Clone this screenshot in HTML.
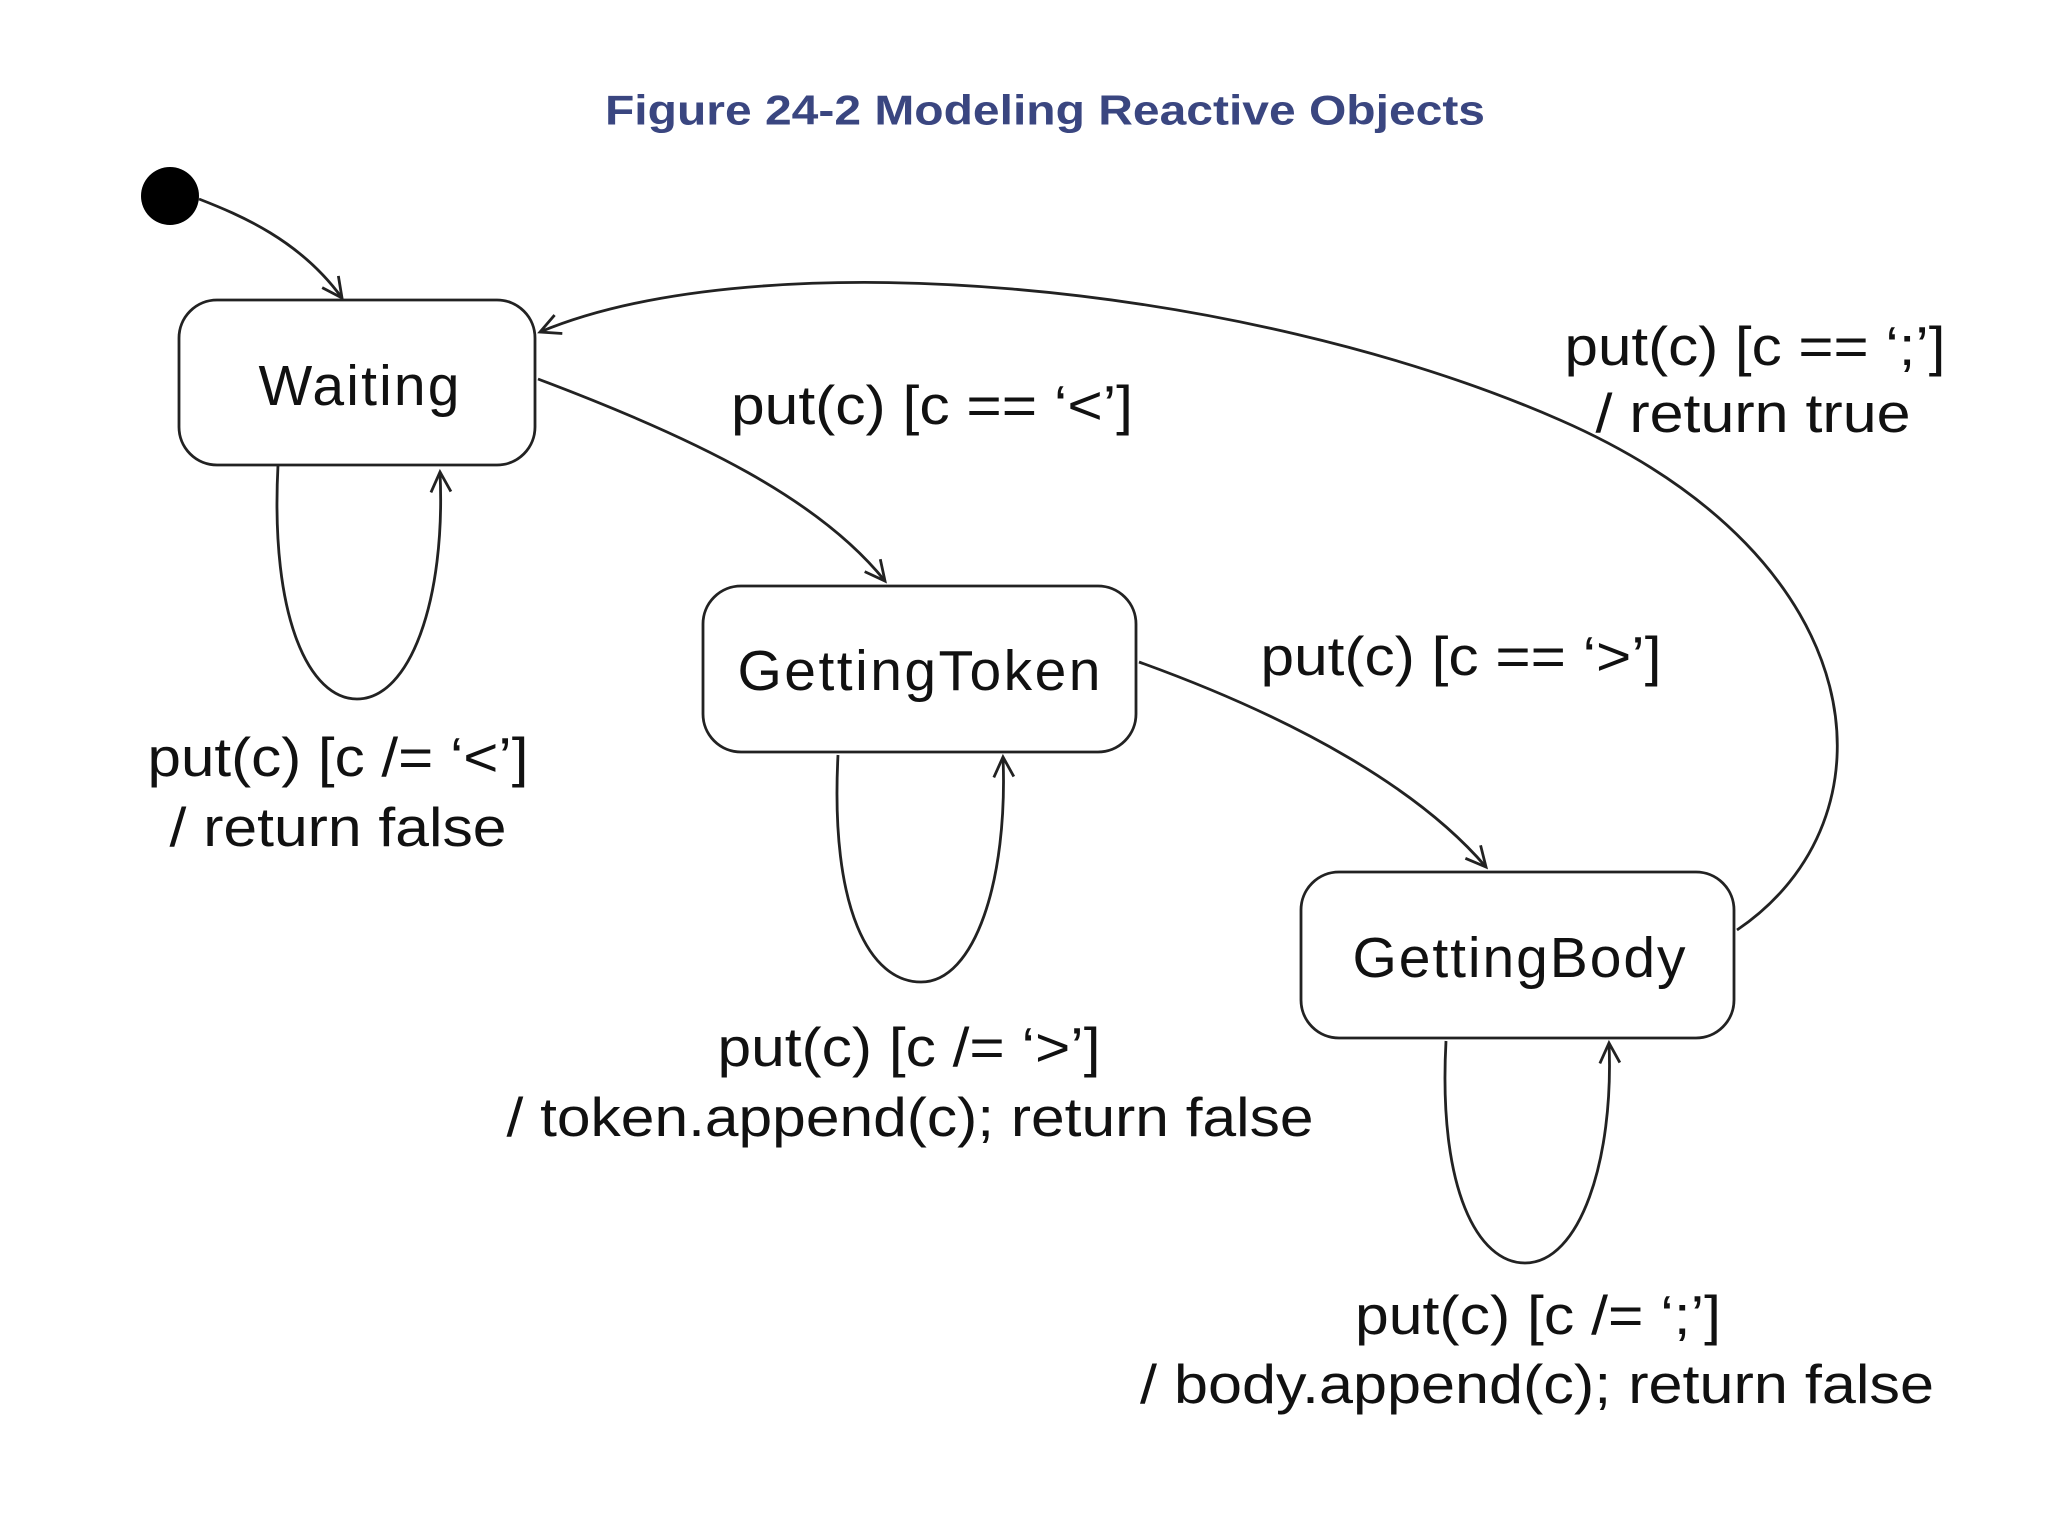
<!DOCTYPE html>
<html><head><meta charset="utf-8"><style>
html,body{margin:0;padding:0;background:#fff;}
svg{display:block;}
text{font-family:"Liberation Sans",Arial,sans-serif;fill:#111;}
</style></head><body>
<svg width="2048" height="1536" viewBox="0 0 2048 1536" xmlns="http://www.w3.org/2000/svg">
<defs>
<marker id="a" markerWidth="30" markerHeight="30" refX="22" refY="12" orient="auto" markerUnits="userSpaceOnUse">
<polyline points="2,2 22,12 2,22" fill="none" stroke="#222" stroke-width="2.8"/>
</marker>
</defs>
<text x="1045" y="110" font-size="42" font-weight="bold" text-anchor="middle" dominant-baseline="central" textLength="880" lengthAdjust="spacingAndGlyphs" style="fill:#3a4680">Figure 24-2 Modeling Reactive Objects</text>
<circle cx="170" cy="196" r="29" fill="#000"/>
<g fill="none" stroke="#222" stroke-width="2.8">
<path d="M199,199 C240,215 300,240 342,298" marker-end="url(#a)"/>
<rect x="179" y="300" width="356" height="165" rx="38"/>
<rect x="703" y="586" width="433" height="166" rx="38"/>
<rect x="1301" y="872" width="433" height="166" rx="38"/>
<path d="M538,379 C700,440 820,500 885,581" marker-end="url(#a)"/>
<path d="M1139,662 C1300,720 1420,790 1486,867" marker-end="url(#a)"/>
<path d="M1737,930 C1900,820 1880,560 1560,420 C1240,280 760,240 540,332" marker-end="url(#a)"/>
<path d="M278,465 C270,620 310,699 357,699 C410,699 446,600 440,472" marker-end="url(#a)"/>
<path d="M838,755 C830,910 870,982 921,982 C975,982 1008,880 1003,757" marker-end="url(#a)"/>
<path d="M1446,1041 C1438,1190 1478,1263 1525,1263 C1580,1263 1614,1160 1609,1043" marker-end="url(#a)"/>
</g>
<g font-size="57" text-anchor="middle" dominant-baseline="central" lengthAdjust="spacingAndGlyphs">
<text x="359" y="386" textLength="201">Waiting</text>
<text x="919" y="671" textLength="363">GettingToken</text>
<text x="1519" y="958" textLength="333">GettingBody</text>
</g>
<g font-size="55" dominant-baseline="central" text-anchor="middle">
<text x="932" y="405" textLength="402" lengthAdjust="spacingAndGlyphs">put(c) [c == ‘&lt;’]</text>
<text x="1461" y="656" textLength="401" lengthAdjust="spacingAndGlyphs">put(c) [c == ‘&gt;’]</text>
<text x="1755" y="346" textLength="381" lengthAdjust="spacingAndGlyphs">put(c) [c == ‘;’]</text>
<text x="1753" y="413" textLength="315" lengthAdjust="spacingAndGlyphs">/ return true</text>
<text x="338" y="757" textLength="381" lengthAdjust="spacingAndGlyphs">put(c) [c /= ‘&lt;’]</text>
<text x="338" y="827" textLength="337" lengthAdjust="spacingAndGlyphs">/ return false</text>
<text x="909" y="1047" textLength="383" lengthAdjust="spacingAndGlyphs">put(c) [c /= ‘&gt;’]</text>
<text x="910" y="1117" textLength="807" lengthAdjust="spacingAndGlyphs">/ token.append(c); return false</text>
<text x="1538" y="1315" textLength="366" lengthAdjust="spacingAndGlyphs">put(c) [c /= ‘;’]</text>
<text x="1537" y="1384" textLength="794" lengthAdjust="spacingAndGlyphs">/ body.append(c); return false</text>
</g>
</svg>
</body></html>
